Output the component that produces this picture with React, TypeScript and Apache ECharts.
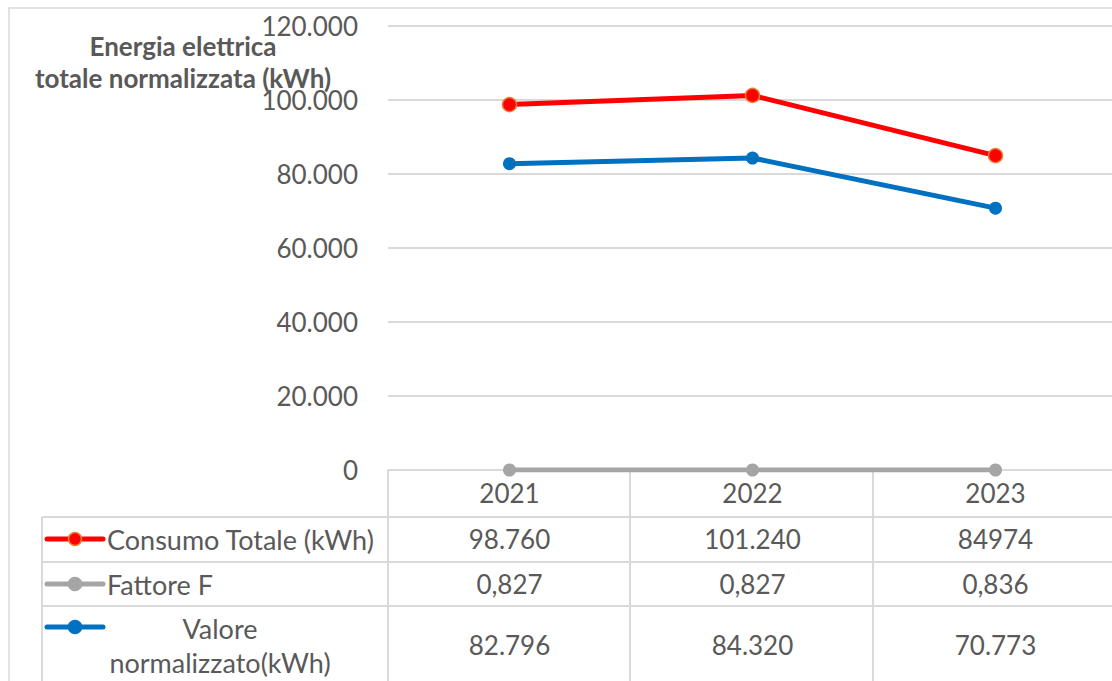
import React, { useEffect, useRef } from "react";
import * as echarts from "echarts";

const years = ["2021", "2022", "2023"];
const consumoTotale = [98760, 101240, 84974];
const fattoreF = [0.827, 0.827, 0.836];
const valoreNormalizzato = [82796, 84320, 70773];
const consumoLabels = ["98.760", "101.240", "84974"];
const fattoreLabels = ["0,827", "0,827", "0,836"];
const valoreLabels = ["82.796", "84.320", "70.773"];
const seriesNames = ["Consumo Totale (kWh)", "Fattore F", "Valore\nnormalizzato(kWh)"];
const yTicks = { min: 0, max: 120000, interval: 20000 };

const FONT = "Lato, 'Liberation Sans', sans-serif";
const TXT = "#595959";
const GRID = "#D9D9D9";
const RED = "#FF0000";
const GRAY = "#A5A5A5";
const BLUE = "#0070C0";
const FS = 26;

const fmt = (v: number) => String(v).replace(/\B(?=(\d{3})+(?!\d))/g, ".");

export default function App() {
  const ref = useRef<HTMLDivElement>(null);
  useEffect(() => {
    const chart = echarts.init(ref.current!, null, { renderer: "svg" });
    const baseAxis = {
      type: "category" as const,
      data: years,
      position: "bottom" as const,
      axisLine: { show: false },
      axisTick: { show: false },
      splitLine: { show: false },
    };
    const tableAxis = (labels: string[], offset: number) => ({
      ...baseAxis,
      data: labels,
      offset,
      axisLabel: {
        fontFamily: FONT,
        fontSize: FS,
        color: TXT,
        margin: 0,
        verticalAlign: "middle",
        interval: 0,
      },
    });
    const keys = [
      { y: 539, c: RED, b: "#ED7D31" },
      { y: 584, c: GRAY, b: GRAY },
      { y: 627, c: BLUE, b: BLUE },
    ];
    const graphic: any[] = [
      {
        type: "rect",
        shape: { x: 9, y: 8, width: 1300, height: 900 },
        style: { fill: "none", stroke: GRID, lineWidth: 1.5 },
        silent: true,
      },
      {
        type: "text",
        x: 183,
        y: 46,
        style: {
          text: "Energia elettrica",
          font: `bold 26px ${FONT}`,
          fill: TXT,
          textAlign: "center",
          textVerticalAlign: "middle",
        },
      },
      {
        type: "text",
        x: 183,
        y: 78,
        style: {
          text: "totale normalizzata (kWh)",
          font: `bold 26px ${FONT}`,
          fill: TXT,
          textAlign: "center",
          textVerticalAlign: "middle",
        },
      },
    ];
    [517, 562, 606].forEach((y) =>
      graphic.push({
        type: "line",
        shape: { x1: 42, y1: y, x2: 1300, y2: y },
        style: { stroke: GRID, lineWidth: 2 },
      })
    );
    graphic.push({
      type: "line",
      shape: { x1: 42, y1: 517, x2: 42, y2: 700 },
      style: { stroke: GRID, lineWidth: 2 },
    });
    [388, 630, 873].forEach((x) =>
      graphic.push({
        type: "line",
        shape: { x1: x, y1: 470, x2: x, y2: 700 },
        style: { stroke: GRID, lineWidth: 2 },
      })
    );
    keys.forEach((k) => {
      graphic.push({
        type: "line",
        shape: { x1: 47, y1: k.y, x2: 103, y2: k.y },
        style: { stroke: k.c, lineWidth: 5, lineCap: "round" },
      });
      graphic.push({
        type: "circle",
        shape: { cx: 75, cy: k.y, r: 6.5 },
        style: { fill: k.c, stroke: k.b, lineWidth: 1.5 },
      });
    });
    graphic.push({
      type: "text",
      x: 107,
      y: 539,
      style: { text: seriesNames[0], font: `27px ${FONT}`, fill: TXT, textVerticalAlign: "middle" },
    });
    graphic.push({
      type: "text",
      x: 107,
      y: 584,
      style: { text: seriesNames[1], font: `27px ${FONT}`, fill: TXT, textVerticalAlign: "middle" },
    });
    graphic.push({
      type: "text",
      x: 220,
      y: 645,
      style: {
        text: seriesNames[2],
        font: `27px ${FONT}`,
        fill: TXT,
        textAlign: "center",
        textVerticalAlign: "middle",
        lineHeight: 34,
      },
    });

    chart.setOption({
      animation: false,
      backgroundColor: "#fff",
      grid: { left: 388, right: 3, top: 26, bottom: 211, containLabel: false },
      xAxis: [
        {
          ...baseAxis,
          axisLine: { show: true, lineStyle: { color: GRID, width: 2 } },
          axisLabel: {
            fontFamily: FONT,
            fontSize: FS,
            color: TXT,
            margin: 23,
            verticalAlign: "middle",
          },
        },
        tableAxis(consumoLabels, 69),
        tableAxis(fattoreLabels, 114),
        tableAxis(valoreLabels, 175),
      ],
      yAxis: {
        type: "value",
        ...yTicks,
        axisLine: { show: false },
        axisTick: { show: false },
        splitLine: { lineStyle: { color: GRID, width: 2 } },
        axisLabel: {
          fontFamily: FONT,
          fontSize: FS,
          color: TXT,
          margin: 30,
          formatter: (v: number) => fmt(v),
        },
      },
      series: [
        {
          name: "Fattore F",
          type: "line",
          data: fattoreF,
          symbol: "circle",
          symbolSize: 13,
          lineStyle: { color: GRAY, width: 5 },
          itemStyle: { color: GRAY },
          z: 3,
        },
        {
          name: "Valore normalizzato(kWh)",
          type: "line",
          data: valoreNormalizzato,
          symbol: "circle",
          symbolSize: 13,
          lineStyle: { color: BLUE, width: 5 },
          itemStyle: { color: BLUE },
          z: 4,
        },
        {
          name: "Consumo Totale (kWh)",
          type: "line",
          data: consumoTotale,
          symbol: "circle",
          symbolSize: 14,
          lineStyle: { color: RED, width: 5 },
          itemStyle: { color: RED, borderColor: "#ED7D31", borderWidth: 1.5 },
          z: 5,
        },
      ],
      graphic,
    });
    return () => chart.dispose();
  }, []);
  return (
    <div
      style={{
        position: "fixed",
        left: 0,
        top: 0,
        width: 1112,
        height: 681,
        overflow: "hidden",
        background: "#fff",
      }}
    >
      <div ref={ref} style={{ width: 1120, height: 681 }} />
    </div>
  );
}
